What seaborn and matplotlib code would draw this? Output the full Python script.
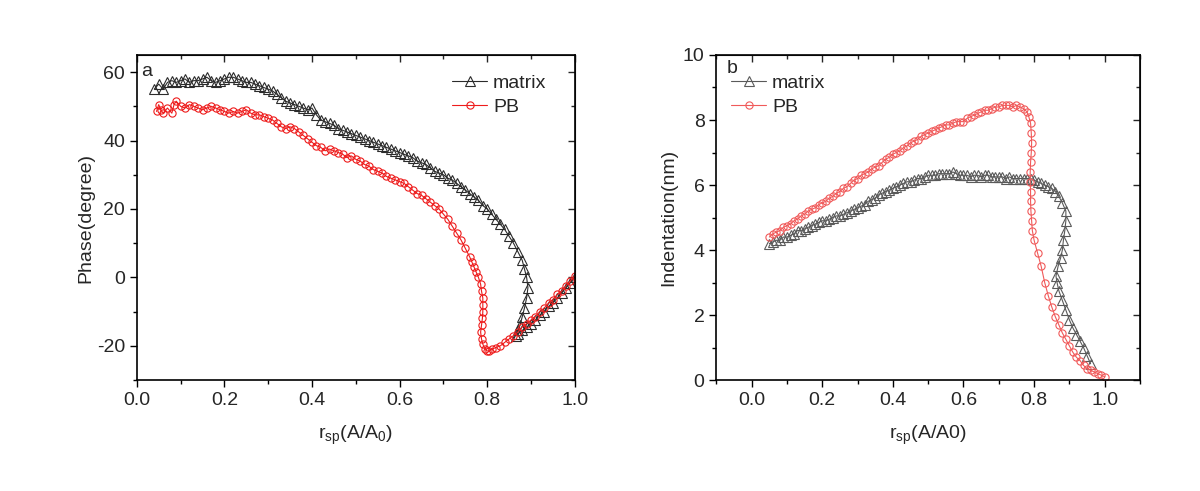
import matplotlib
matplotlib.use("Agg")
import matplotlib.pyplot as plt
import seaborn as sns
from matplotlib.ticker import MultipleLocator

# ---- panel a: phase vs amplitude ratio ----
phase_matrix_x = [
    0.04, 0.05, 0.06, 0.07, 0.08, 0.09, 0.10, 0.11, 0.12, 0.13, 0.14, 0.15, 0.16, 0.17, 0.18, 0.19,
    0.20, 0.21, 0.22, 0.23, 0.24, 0.25, 0.26, 0.27, 0.28, 0.29, 0.30, 0.31, 0.32, 0.33, 0.34, 0.35,
    0.36, 0.37, 0.38, 0.39, 0.40, 0.41, 0.42, 0.43, 0.44, 0.45, 0.46, 0.47, 0.48, 0.49, 0.50, 0.51,
    0.52, 0.53, 0.54, 0.55, 0.56, 0.57, 0.58, 0.59, 0.60, 0.61, 0.62, 0.63, 0.64, 0.65, 0.66, 0.67,
    0.68, 0.69, 0.70, 0.71, 0.72, 0.73, 0.74, 0.75, 0.76, 0.77, 0.78, 0.79, 0.80, 0.81, 0.82, 0.83,
    0.84, 0.85, 0.86, 0.87, 0.88, 0.885, 0.89, 0.893, 0.89, 0.885, 0.88, 0.875, 0.87, 0.865,
    0.87, 0.88, 0.89, 0.90, 0.91, 0.92, 0.93, 0.94, 0.95, 0.96, 0.97, 0.98, 0.99, 1.00,
]
phase_matrix_y = [
    55, 56.5, 55, 57, 57.5, 57, 57.5, 58, 57, 57.5, 57.5, 58, 58.5, 57.5, 57, 57.5,
    58, 58.5, 58.5, 58, 57.5, 57, 57, 56.5, 56, 55.5, 55, 54.5, 53.5, 52.5, 51.5, 51,
    50.5, 50, 49.5, 49, 49.5, 47.5, 46, 45.5, 45, 44.5, 43.5, 43, 42.5, 42, 41.5, 41,
    40.5, 40, 39.5, 39, 38.5, 38, 37.5, 37, 36.5, 36, 35.5, 35, 34, 33.5, 33, 32,
    31, 30.5, 30, 29, 28.5, 27.5, 26.5, 25.5, 24.5, 23.5, 22.5, 21, 20, 18.5, 17, 15.5,
    14, 12, 10, 7.5, 5, 2.5, 0, -3, -6, -9, -11.5, -14, -15.5, -17,
    -16.5, -15.5, -14.5, -13.5, -12.5, -11, -10, -8.5, -7.5, -6, -4.5, -3, -1.5, 0,
]
phase_pb_x = [
    0.045, 0.05, 0.055, 0.06, 0.07, 0.08, 0.085, 0.09, 0.10, 0.11, 0.12, 0.13, 0.14, 0.15, 0.16, 0.17,
    0.18, 0.19, 0.20, 0.21, 0.22, 0.23, 0.24, 0.25, 0.26, 0.27, 0.28, 0.29, 0.30, 0.31, 0.32, 0.33,
    0.34, 0.35, 0.36, 0.37, 0.38, 0.39, 0.40, 0.41, 0.42, 0.43, 0.44, 0.45, 0.46, 0.47, 0.48, 0.49,
    0.50, 0.51, 0.52, 0.53, 0.54, 0.55, 0.56, 0.57, 0.58, 0.59, 0.60, 0.61, 0.62, 0.63, 0.64, 0.65,
    0.66, 0.67, 0.68, 0.69, 0.70, 0.71, 0.72, 0.73, 0.74, 0.75, 0.76, 0.765, 0.77, 0.775, 0.78, 0.785,
    0.787, 0.79, 0.79, 0.79, 0.789, 0.787, 0.785, 0.787, 0.79, 0.795, 0.80, 0.805,
    0.81, 0.82, 0.83, 0.84, 0.85, 0.86, 0.87, 0.88, 0.89, 0.90, 0.91, 0.92, 0.93, 0.94, 0.95, 0.96,
    0.97, 0.98, 0.99, 1.00,
]
phase_pb_y = [
    48.5, 50.5, 49, 48, 49.5, 48, 50.5, 51.5, 50, 49.5, 50.5, 50, 49.5, 49, 49.5, 50,
    49.5, 49, 48.5, 48, 48.5, 48, 48.5, 49, 48, 47.5, 47.5, 47, 46.5, 46, 45, 44,
    43.5, 44, 43.5, 42.5, 41.5, 40.5, 39.5, 38.5, 38, 37, 37.5, 37, 36.5, 36, 35, 35.5,
    34.5, 34, 33, 32.5, 31.5, 31, 30.5, 29.5, 29, 28.5, 28, 27.5, 26.5, 25.5, 24.5, 24,
    23, 22, 21, 20, 18.5, 17, 15, 13, 11, 8.5, 6, 4.5, 3, 1.5, 0, -2,
    -4, -6, -8, -10, -12, -14, -16, -18, -19.5, -21, -21.5, -21.5,
    -21, -20.5, -20, -19, -18, -17, -16, -14.5, -13.5, -12.5, -11.5, -10, -9, -7.5, -6.5, -5,
    -4, -2.5, -1, 0.5,
]

# ---- panel b: indentation vs amplitude ratio ----
indent_matrix_x = [
    0.05, 0.06, 0.07, 0.08, 0.09, 0.10, 0.11, 0.12, 0.13, 0.14, 0.15, 0.16, 0.17, 0.18, 0.19, 0.20,
    0.21, 0.22, 0.23, 0.24, 0.25, 0.26, 0.27, 0.28, 0.29, 0.30, 0.31, 0.32, 0.33, 0.34, 0.35, 0.36,
    0.37, 0.38, 0.39, 0.40, 0.41, 0.42, 0.43, 0.44, 0.45, 0.46, 0.47, 0.48, 0.49, 0.50, 0.51, 0.52,
    0.53, 0.54, 0.55, 0.56, 0.57, 0.58, 0.59, 0.60, 0.61, 0.62, 0.63, 0.64, 0.65, 0.66, 0.67, 0.68,
    0.69, 0.70, 0.71, 0.72, 0.73, 0.74, 0.75, 0.76, 0.77, 0.78, 0.79, 0.80, 0.81, 0.82, 0.83, 0.84,
    0.85, 0.86, 0.87, 0.88, 0.89, 0.89, 0.887, 0.883, 0.88, 0.875, 0.868, 0.862,
    0.865, 0.87, 0.88, 0.89, 0.90, 0.91, 0.92, 0.93, 0.94, 0.95, 0.96,
]
indent_matrix_y = [
    4.2, 4.25, 4.3, 4.3, 4.4, 4.4, 4.45, 4.5, 4.6, 4.6, 4.65, 4.7, 4.75, 4.8, 4.85, 4.9,
    4.9, 4.95, 5.0, 5.05, 5.05, 5.1, 5.15, 5.2, 5.25, 5.3, 5.35, 5.4, 5.5, 5.55, 5.6, 5.7,
    5.75, 5.8, 5.85, 5.9, 5.95, 6.0, 6.05, 6.1, 6.1, 6.15, 6.2, 6.2, 6.25, 6.3, 6.3, 6.3,
    6.35, 6.35, 6.35, 6.35, 6.4, 6.35, 6.3, 6.3, 6.3, 6.25, 6.3, 6.3, 6.25, 6.3, 6.3, 6.25,
    6.25, 6.25, 6.25, 6.2, 6.25, 6.2, 6.2, 6.2, 6.2, 6.2, 6.2, 6.15, 6.1, 6.05, 6.0, 5.95,
    5.9, 5.8, 5.65, 5.45, 5.2, 4.9, 4.6, 4.3, 4.0, 3.75, 3.5, 3.2,
    3.0, 2.75, 2.45, 2.15, 1.85, 1.6, 1.4, 1.2, 1.0, 0.75, 0.5,
]
indent_pb_x = [
    0.05, 0.06, 0.07, 0.08, 0.09, 0.10, 0.11, 0.12, 0.13, 0.14, 0.15, 0.16, 0.17, 0.18, 0.19, 0.20,
    0.21, 0.22, 0.23, 0.24, 0.25, 0.26, 0.27, 0.28, 0.29, 0.30, 0.31, 0.32, 0.33, 0.34, 0.35, 0.36,
    0.37, 0.38, 0.39, 0.40, 0.41, 0.42, 0.43, 0.44, 0.45, 0.46, 0.47, 0.48, 0.49, 0.50, 0.51, 0.52,
    0.53, 0.54, 0.55, 0.56, 0.57, 0.58, 0.59, 0.60, 0.61, 0.62, 0.63, 0.64, 0.65, 0.66, 0.67, 0.68,
    0.69, 0.70, 0.71, 0.72, 0.73, 0.74, 0.75, 0.76, 0.77, 0.78, 0.785, 0.79, 0.792, 0.793, 0.792, 0.79,
    0.789, 0.789, 0.79, 0.79, 0.791, 0.793, 0.795, 0.80, 0.81, 0.82, 0.83, 0.84, 0.85, 0.86, 0.87, 0.88,
    0.89, 0.90, 0.91, 0.92, 0.93, 0.94, 0.95, 0.96, 0.97, 0.98, 0.99, 1.00,
]
indent_pb_y = [
    4.4, 4.5, 4.55, 4.6, 4.7, 4.75, 4.8, 4.9, 4.95, 5.05, 5.1, 5.2, 5.25, 5.3, 5.4, 5.45,
    5.5, 5.6, 5.65, 5.75, 5.8, 5.9, 5.95, 6.05, 6.15, 6.2, 6.3, 6.35, 6.4, 6.5, 6.55, 6.6,
    6.7, 6.8, 6.85, 6.95, 7.0, 7.05, 7.15, 7.2, 7.3, 7.35, 7.4, 7.5, 7.55, 7.6, 7.65, 7.7,
    7.75, 7.8, 7.85, 7.85, 7.9, 7.95, 7.95, 7.95, 8.05, 8.1, 8.15, 8.2, 8.25, 8.3, 8.3, 8.35,
    8.4, 8.4, 8.45, 8.45, 8.45, 8.4, 8.45, 8.4, 8.35, 8.25, 8.1, 7.9, 7.6, 7.3, 7.0, 6.7,
    6.4, 6.1, 5.8, 5.5, 5.2, 4.9, 4.6, 4.3, 3.9, 3.5, 3.0, 2.6, 2.25, 1.95, 1.7, 1.45,
    1.25, 1.05, 0.85, 0.7, 0.6, 0.45, 0.35, 0.3, 0.25, 0.2, 0.15, 0.1,
]

sns.set_style("ticks")
plt.rcParams["font.family"] = ["Liberation Sans", "DejaVu Sans"]
plt.rcParams["mathtext.fontset"] = "custom"
plt.rcParams["mathtext.rm"] = "Liberation Sans"
plt.rcParams["mathtext.it"] = "Liberation Sans"
plt.rcParams["axes.unicode_minus"] = False

FS = 14

fig = plt.figure(figsize=(12, 4.91), dpi=100)
ax_a = fig.add_axes([0.114, 0.226, 0.365, 0.662])
ax_b = fig.add_axes([0.597, 0.226, 0.353, 0.662])


def draw_series(ax, x, y, marker, color, ms, label):
    sns.lineplot(x=x, y=y, ax=ax, sort=False, estimator=None, color=color,
                 marker=marker, markersize=ms, markerfacecolor="none",
                 markeredgecolor=color, markeredgewidth=0.8, linewidth=0.8,
                 label=label)


def style_axes(ax, xlim, ylim, xmaj, xmin, ymaj, ymin):
    ax.set_xlim(*xlim)
    ax.set_ylim(*ylim)
    ax.xaxis.set_major_locator(MultipleLocator(xmaj))
    ax.xaxis.set_minor_locator(MultipleLocator(xmin))
    ax.yaxis.set_major_locator(MultipleLocator(ymaj))
    ax.yaxis.set_minor_locator(MultipleLocator(ymin))
    ax.tick_params(which="both", direction="out", labelsize=FS, width=1, color="black")
    ax.tick_params(which="major", length=5)
    ax.tick_params(which="minor", length=3)
    for sp in ax.spines.values():
        sp.set_visible(True)
        sp.set_linewidth(1.2)
        sp.set_color("black")
    # mirrored ticks pointing inward on top and right
    top = ax.secondary_xaxis("top")
    top.xaxis.set_major_locator(MultipleLocator(xmaj))
    top.xaxis.set_minor_locator(MultipleLocator(xmin))
    top.tick_params(which="both", direction="in", labeltop=False, width=1)
    top.tick_params(which="major", length=5)
    top.tick_params(which="minor", length=3)
    right = ax.secondary_yaxis("right")
    right.yaxis.set_major_locator(MultipleLocator(ymaj))
    right.yaxis.set_minor_locator(MultipleLocator(ymin))
    right.tick_params(which="both", direction="in", labelright=False, width=1)
    right.tick_params(which="major", length=5)
    right.tick_params(which="minor", length=3)


# panel a
draw_series(ax_a, phase_matrix_x, phase_matrix_y, "^", "#2b2b2b", 6.5, "matrix")
draw_series(ax_a, phase_pb_x, phase_pb_y, "o", "#ee1c1c", 5.2, "PB")
style_axes(ax_a, (0.0, 1.0), (-30, 65), 0.2, 0.1, 20, 10)
ax_a.set_xlabel(r"$\mathregular{r_{sp}(A/A_0)}$", fontsize=FS, labelpad=11)
ax_a.set_ylabel("Phase(degree)", fontsize=FS, labelpad=2)
ax_a.text(0.011, 0.975, "a", transform=ax_a.transAxes, fontsize=FS, va="top")
ax_a.legend(loc="upper left", bbox_to_anchor=(0.72, 0.94), frameon=False, fontsize=FS,
            handlelength=1.8, handletextpad=0.3, labelspacing=0.3, borderpad=0,
            borderaxespad=0)

# panel b
draw_series(ax_b, indent_matrix_x, indent_matrix_y, "^", "#5a5a5a", 6.5, "matrix")
draw_series(ax_b, indent_pb_x, indent_pb_y, "o", "#f05a5a", 5.2, "PB")
style_axes(ax_b, (-0.1, 1.1), (0, 10), 0.2, 0.1, 2, 1)
ax_b.set_xticks([0.0, 0.2, 0.4, 0.6, 0.8, 1.0])
ax_b.set_xlabel(r"$\mathregular{r_{sp}}$(A/A0)", fontsize=FS, labelpad=11)
ax_b.set_ylabel("Indentation(nm)", fontsize=FS, labelpad=4)
ax_b.text(0.025, 0.985, "b", transform=ax_b.transAxes, fontsize=FS, va="top")
ax_b.legend(loc="upper left", bbox_to_anchor=(0.035, 0.94), frameon=False, fontsize=FS,
            handlelength=1.8, handletextpad=0.3, labelspacing=0.3, borderpad=0,
            borderaxespad=0)

fig.savefig("out.png", dpi=100)
